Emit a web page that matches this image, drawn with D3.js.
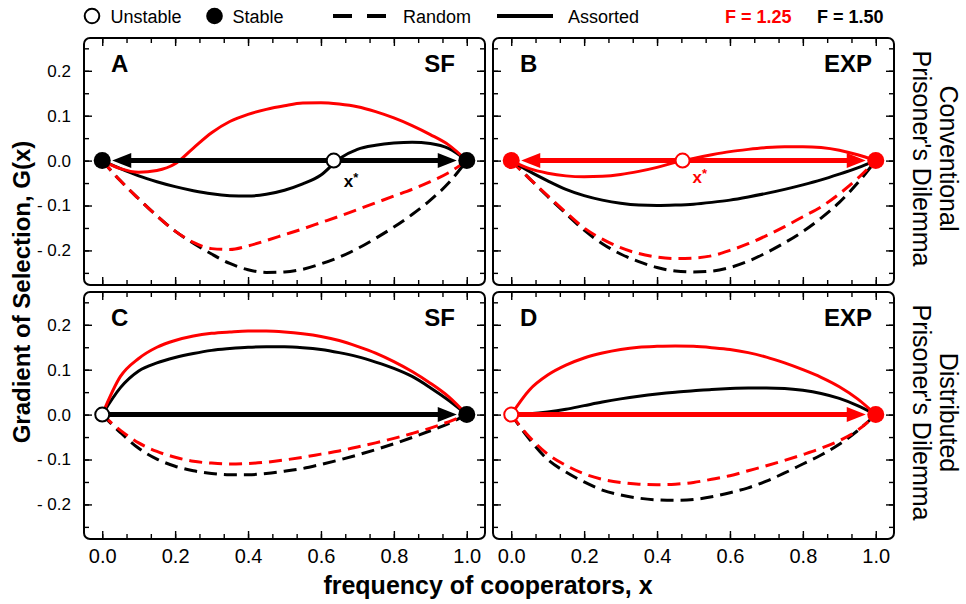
<!DOCTYPE html>
<html>
<head>
<meta charset="utf-8">
<script src="https://cdn.jsdelivr.net/npm/d3@7"></script>
<style>
  body { margin: 0; background: #fff; }
  svg { display: block; }
  text { font-family: "Liberation Sans", Arial, Helvetica, sans-serif; }
</style>
</head>
<body>
<svg id="chart" width="966" height="604"></svg>
<script>
// ---- data -------------------------------------------------------------
const gridX = [0, 0.05, 0.1, 0.15, 0.2, 0.25, 0.3, 0.35, 0.4, 0.45, 0.5,
               0.55, 0.6, 0.65, 0.7, 0.75, 0.8, 0.85, 0.9, 0.95, 1];

// A: scale-free network, conventional PD
const aRandom150   = [0, -0.045, -0.085, -0.123, -0.157, -0.184, -0.208, -0.229, -0.243, -0.249, -0.248, -0.242, -0.23, -0.215, -0.196, -0.173, -0.148, -0.12, -0.088, -0.05, 0];
const aRandom125   = [0, -0.045, -0.085, -0.123, -0.157, -0.182, -0.196, -0.198, -0.19, -0.178, -0.165, -0.152, -0.138, -0.124, -0.109, -0.094, -0.079, -0.064, -0.047, -0.027, 0];
const aAssorted150 = [0, -0.018, -0.034, -0.047, -0.058, -0.067, -0.074, -0.078, -0.079, -0.075, -0.066, -0.052, -0.032, 0.004, 0.025, 0.034, 0.039, 0.041, 0.038, 0.027, 0];
const aAssorted125 = [0, -0.018, -0.026, -0.022, -0.007, 0.028, 0.062, 0.087, 0.103, 0.114, 0.122, 0.128, 0.129, 0.126, 0.12, 0.109, 0.095, 0.078, 0.058, 0.035, 0];
const aFixedX      = [0, 0.635, 1];
const aFixedStable = [true, false, true];

// B: exponential network, conventional PD
const bRandom150   = [0, -0.04, -0.08, -0.118, -0.155, -0.185, -0.208, -0.225, -0.238, -0.246, -0.248, -0.246, -0.238, -0.224, -0.205, -0.183, -0.158, -0.128, -0.093, -0.05, 0];
const bRandom125   = [0, -0.04, -0.078, -0.115, -0.15, -0.175, -0.194, -0.207, -0.215, -0.218, -0.217, -0.212, -0.2, -0.185, -0.167, -0.147, -0.125, -0.103, -0.074, -0.04, 0];
const bAssorted150 = [0, -0.024, -0.045, -0.064, -0.078, -0.088, -0.095, -0.099, -0.1, -0.099, -0.097, -0.093, -0.088, -0.081, -0.073, -0.064, -0.054, -0.043, -0.03, -0.016, 0];
const bAssorted125 = [0, -0.018, -0.028, -0.034, -0.036, -0.035, -0.031, -0.024, -0.015, -0.004, 0.005, 0.013, 0.02, 0.025, 0.029, 0.031, 0.031, 0.029, 0.023, 0.013, 0];
const bFixedX      = [0, 0.47, 1];
const bFixedStable = [true, false, true];

// C: scale-free network, distributed PD
const cRandom150   = [0, -0.04, -0.075, -0.099, -0.115, -0.125, -0.131, -0.134, -0.134, -0.131, -0.126, -0.12, -0.111, -0.101, -0.09, -0.078, -0.065, -0.051, -0.036, -0.02, 0];
const cRandom125   = [0, -0.035, -0.063, -0.082, -0.095, -0.104, -0.108, -0.11, -0.109, -0.106, -0.101, -0.095, -0.088, -0.081, -0.072, -0.063, -0.053, -0.042, -0.03, -0.016, 0];
const cAssorted150 = [0, 0.06, 0.097, 0.115, 0.127, 0.136, 0.143, 0.147, 0.15, 0.151, 0.151, 0.149, 0.145, 0.138, 0.129, 0.117, 0.103, 0.085, 0.06, 0.032, 0];
const cAssorted125 = [0, 0.085, 0.125, 0.15, 0.165, 0.175, 0.181, 0.184, 0.186, 0.186, 0.184, 0.18, 0.174, 0.165, 0.152, 0.137, 0.118, 0.096, 0.07, 0.04, 0];
const cFixedX      = [0, 1];
const cFixedStable = [false, true];

// D: exponential network, distributed PD
const dRandom150   = [0, -0.055, -0.1, -0.128, -0.15, -0.168, -0.179, -0.186, -0.19, -0.191, -0.189, -0.183, -0.174, -0.163, -0.148, -0.13, -0.11, -0.09, -0.066, -0.036, 0];
const dRandom125   = [0, -0.05, -0.088, -0.113, -0.132, -0.144, -0.151, -0.155, -0.156, -0.155, -0.151, -0.144, -0.136, -0.125, -0.114, -0.102, -0.089, -0.075, -0.058, -0.035, 0];
const dAssorted150 = [0, 0.002, 0.006, 0.012, 0.02, 0.028, 0.035, 0.041, 0.046, 0.05, 0.053, 0.056, 0.058, 0.059, 0.059, 0.058, 0.054, 0.047, 0.036, 0.02, 0];
const dAssorted125 = [0, 0.055, 0.088, 0.11, 0.126, 0.137, 0.145, 0.15, 0.152, 0.153, 0.152, 0.149, 0.145, 0.138, 0.128, 0.115, 0.1, 0.083, 0.062, 0.035, 0];
const dFixedX      = [0, 1];
const dFixedStable = [false, true];

const panelLetters = ["A", "B", "C", "D"];
const panelModels  = ["SF", "EXP", "SF", "EXP"];
const rowTitles    = [["Conventional", "Prisoner's Dilemma"], ["Distributed", "Prisoner's Dilemma"]];
const fLabels      = ["F = 1.25", "F = 1.50"];
const legendLabels = ["Unstable", "Stable", "Random", "Assorted"];
const xTickValues  = [0, 0.2, 0.4, 0.6, 0.8, 1.0];
const xTickLabels  = ["0.0", "0.2", "0.4", "0.6", "0.8", "1.0"];
const yTickValues  = [0.2, 0.1, 0, -0.1, -0.2];
const yTickLabels  = ["0.2", "0.1", "0.0", "- 0.1", "- 0.2"];
const xTitle = "frequency of cooperators, x";
const yTitle = "Gradient of Selection, G(x)";

// ---- layout -----------------------------------------------------------
const RED = "#ff0000", BLACK = "#000000";
const FONT = '"Liberation Sans", Arial, Helvetica, sans-serif';
const panelW = 401, panelH = 247;
const colX = [84, 493], rowY = [38, 292];

const panels = [
  { random: [aRandom150, aRandom125], assorted: [aAssorted150, aAssorted125],
    fixedX: aFixedX, fixedStable: aFixedStable, dynColor: BLACK, starDy: 26, modelInset: 30 },
  { random: [bRandom150, bRandom125], assorted: [bAssorted150, bAssorted125],
    fixedX: bFixedX, fixedStable: bFixedStable, dynColor: RED, starDy: 22, modelInset: 22 },
  { random: [cRandom150, cRandom125], assorted: [cAssorted150, cAssorted125],
    fixedX: cFixedX, fixedStable: cFixedStable, dynColor: BLACK, starDy: 24, modelInset: 30 },
  { random: [dRandom150, dRandom125], assorted: [dAssorted150, dAssorted125],
    fixedX: dFixedX, fixedStable: dFixedStable, dynColor: RED, starDy: 24, modelInset: 22 }
];
const seriesColors = [BLACK, RED]; // F = 1.50, F = 1.25

const x = d3.scaleLinear().domain([-0.05, 1.05]).range([0, panelW]);
const y = d3.scaleLinear().domain([-0.277, 0.273]).range([panelH, 0]);
const line = d3.line().x(d => x(d[0])).y(d => y(d[1])).curve(d3.curveMonotoneX);

const svg = d3.select("#chart");

// ---- axis titles ------------------------------------------------------
svg.append("text").attr("x", 488).attr("y", 594).attr("text-anchor", "middle")
  .attr("font-weight", "bold").attr("font-size", 25).attr("fill", BLACK).text(xTitle);
svg.append("text").attr("transform", "translate(30,292) rotate(-90)")
  .attr("text-anchor", "middle").attr("font-weight", "bold").attr("font-size", 24)
  .attr("fill", BLACK).text(yTitle);

// ---- panels -----------------------------------------------------------
panels.forEach((p, i) => {
  const col = i % 2, row = Math.floor(i / 2);
  const g = svg.append("g").attr("transform", `translate(${colX[col]},${rowY[row]})`);

  // tick marks on all four sides, pointing inwards
  const minorX = d3.range(0, 1.0001, 1 / 15);
  const minorY = d3.range(-0.25, 0.2501, 0.05);
  const sides = [
    { make: () => d3.axisLeft(y),   t: [0, 0],      vals: [minorY, yTickValues], labels: col === 0, isY: true },
    { make: () => d3.axisRight(y),  t: [panelW, 0], vals: [minorY, yTickValues], labels: false, isY: true },
    { make: () => d3.axisTop(x),    t: [0, 0],      vals: [minorX, xTickValues], labels: false, isY: false },
    { make: () => d3.axisBottom(x), t: [0, panelH], vals: [minorX, xTickValues], labels: row === 1, isY: false }
  ];
  sides.forEach(s => {
    // minor ticks
    g.append("g").attr("transform", `translate(${s.t})`)
      .call(s.make().tickValues(s.vals[0]).tickSize(-5).tickFormat(""))
      .call(a => a.select(".domain").remove())
      .selectAll("line").attr("stroke-width", 1.4);
    // major ticks (+ labels on the outer edges)
    const vals = s.vals[1], labs = s.isY ? yTickLabels : xTickLabels;
    const ax = g.append("g").attr("transform", `translate(${s.t})`)
      .call(s.make().tickValues(vals).tickSize(-8)
        .tickPadding(s.isY ? 13 : 10)
        .tickFormat((v, k) => s.labels ? labs[k] : ""))
      .call(a => a.select(".domain").remove());
    ax.selectAll("line").attr("stroke-width", 1.4);
    ax.attr("font-family", FONT).attr("font-size", s.isY ? 17 : 20);
    ax.selectAll("text").attr("fill", BLACK);
  });

  // frame
  g.append("rect").attr("x", 0).attr("y", 0).attr("width", panelW).attr("height", panelH)
    .attr("rx", 6).attr("ry", 6).attr("fill", "none").attr("stroke", BLACK).attr("stroke-width", 2);

  // random (dashed) then assorted (solid) curves; F = 1.50 beneath F = 1.25
  [0, 1].forEach(k => {
    g.append("path").datum(gridX.map((xv, j) => [xv, p.random[k][j]]))
      .attr("d", line).attr("fill", "none").attr("stroke", seriesColors[k])
      .attr("stroke-width", 3).attr("stroke-dasharray", "13,7");
  });
  [0, 1].forEach(k => {
    g.append("path").datum(gridX.map((xv, j) => [xv, p.assorted[k][j]]))
      .attr("d", line).attr("fill", "none").attr("stroke", seriesColors[k])
      .attr("stroke-width", 3);
  });

  // direction of selection: arrows from each unstable point to neighbouring stable points
  const y0 = y(0);
  const rStable = 8.5, rUnstable = 7;
  p.fixedX.forEach((fx, fi) => {
    if (p.fixedStable[fi]) return;
    [fi - 1, fi + 1].forEach(ni => {
      if (ni < 0 || ni >= p.fixedX.length || !p.fixedStable[ni]) return;
      const dir = Math.sign(p.fixedX[ni] - fx);
      const tip = x(p.fixedX[ni]) - dir * 10;
      const base = tip - dir * 19;
      g.append("line")
        .attr("x1", x(fx) + dir * rUnstable).attr("x2", base + dir * 2)
        .attr("y1", y0).attr("y2", y0)
        .attr("stroke", p.dynColor).attr("stroke-width", 5);
      g.append("path")
        .attr("d", `M${tip},${y0}L${base},${y0 - 7.5}L${base},${y0 + 7.5}Z`)
        .attr("fill", p.dynColor);
    });
  });

  // fixed points
  p.fixedX.forEach((fx, fi) => {
    const stable = p.fixedStable[fi];
    g.append("circle").attr("cx", x(fx)).attr("cy", y0)
      .attr("r", stable ? rStable : rUnstable)
      .attr("fill", stable ? p.dynColor : "#fff")
      .attr("stroke", p.dynColor).attr("stroke-width", stable ? 0 : 2);
    // interior unstable point is labelled x*
    if (!stable && fx > 0 && fx < 1) {
      const t = g.append("text").attr("x", x(fx) + 10).attr("y", y0 + p.starDy)
        .attr("fill", p.dynColor).attr("font-weight", "bold").attr("font-size", 17);
      t.append("tspan").text("x");
      t.append("tspan").text("*").attr("font-size", 13).attr("dy", -5);
    }
  });

  // panel letter and network model
  g.append("text").attr("x", 27).attr("y", 33.5).text(panelLetters[i])
    .attr("font-weight", "bold").attr("font-size", 24).attr("fill", BLACK);
  g.append("text").attr("x", panelW - p.modelInset).attr("y", 33.5).text(panelModels[i])
    .attr("text-anchor", "end").attr("font-weight", "bold").attr("font-size", 24).attr("fill", BLACK);
});

// ---- row titles (right side, reading downwards) -----------------------
rowTitles.forEach((lines, r) => {
  const cy = rowY[r] + panelH / 2 - 3;
  [[940, lines[0]], [913, lines[1]]].forEach(([bx, txt]) => {
    svg.append("text").attr("transform", `translate(${bx},${cy}) rotate(90)`)
      .attr("text-anchor", "middle").attr("font-size", 25).attr("fill", BLACK).text(txt);
  });
});

// ---- legend -----------------------------------------------------------
const lg = svg.append("g");
const ly = 16, lbase = 22.5;
lg.append("circle").attr("cx", 92).attr("cy", ly).attr("r", 7.3)
  .attr("fill", "#fff").attr("stroke", BLACK).attr("stroke-width", 2);
lg.append("text").attr("x", 110.5).attr("y", lbase).attr("font-size", 18).text(legendLabels[0]);
lg.append("circle").attr("cx", 214.5).attr("cy", ly).attr("r", 8.3).attr("fill", BLACK);
lg.append("text").attr("x", 232.5).attr("y", lbase).attr("font-size", 18).text(legendLabels[1]);
lg.append("line").attr("x1", 333).attr("x2", 387).attr("y1", ly).attr("y2", ly)
  .attr("stroke", BLACK).attr("stroke-width", 4).attr("stroke-dasharray", "19,15");
lg.append("text").attr("x", 403).attr("y", lbase).attr("font-size", 18).text(legendLabels[2]);
lg.append("line").attr("x1", 497).attr("x2", 553).attr("y1", ly).attr("y2", ly)
  .attr("stroke", BLACK).attr("stroke-width", 4);
lg.append("text").attr("x", 568).attr("y", lbase).attr("font-size", 18).text(legendLabels[3]);
lg.append("text").attr("x", 725).attr("y", lbase).attr("font-size", 18).attr("font-weight", "bold")
  .attr("fill", RED).text(fLabels[0]);
lg.append("text").attr("x", 817).attr("y", lbase).attr("font-size", 18).attr("font-weight", "bold")
  .attr("fill", BLACK).text(fLabels[1]);
</script>
</body>
</html>
